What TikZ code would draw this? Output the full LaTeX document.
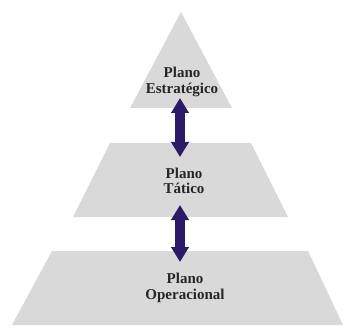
\documentclass[tikz,border=0pt]{standalone}
\usepackage{fontspec}
\setmainfont{Liberation Serif}
\usetikzlibrary{arrows.meta}

\definecolor{levelgray}{RGB}{217,217,217}
\definecolor{arrowblue}{RGB}{42,26,104}

\begin{document}
\begin{tikzpicture}[x=1pt, y=1pt,
    level/.style={fill=levelgray, draw=none},
    label/.style={align=center, font=\fontsize{15}{15.5}\selectfont\bfseries, text=black!85},
    link/.style={{Triangle[width=17pt,length=15pt]}-{Triangle[width=17pt,length=15pt]}, line width=10pt, draw=arrowblue}]

    \useasboundingbox (0,0) rectangle (344,332);

    % three levels of the pyramid
    \fill[level] (181,320) -- (232,224) -- (130,224) -- cycle;
    \fill[level] (110,189) -- (251,189) -- (288,115) -- (73,115) -- cycle;
    \fill[level] (52,81) -- (308,81) -- (343,7) -- (12,7) -- cycle;

    \node[label] (E) at (182,250) {Plano\\Estratégico};
    \node[label] (T) at (184,151) {Plano\\Tático};
    \node[label] (O) at (185,44) {Plano\\Operacional};

    \coordinate (ET1) at (180,234);
    \coordinate (ET2) at (180,175);
    \coordinate (TO1) at (180,127);
    \coordinate (TO2) at (180,70);
\path
        (ET1) edge[link] (ET2)
        (TO1) edge[link] (TO2)
;
\end{tikzpicture}
\end{document}
